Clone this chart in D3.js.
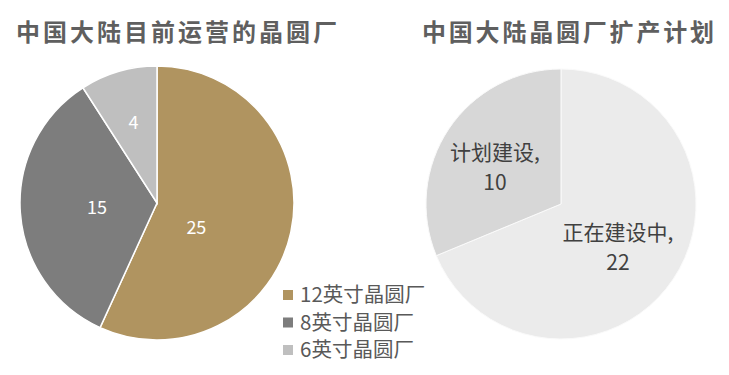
<!DOCTYPE html>
<html>
<head>
<meta charset="utf-8">
<script src="https://d3js.org/d3.v7.min.js"></script>
<style>
  body { margin: 0; background: #fff; }
  text { font-family: "Noto Sans CJK SC", "Noto Sans", sans-serif; }
</style>
</head>
<body>
<svg id="chart" width="729" height="375"></svg>
<script>
// left pie: fabs in operation
var fabTypes = ["12英寸晶圆厂", "8英寸晶圆厂", "6英寸晶圆厂"];
var fabCounts = [25, 15, 4];
var fabColors = ["#b09460", "#7d7d7d", "#bfbfbf"];

// right pie: expansion plans
var planTypes = ["正在建设中", "计划建设"];
var planCounts = [22, 10];
var planColors = ["#ebebeb", "#d7d7d7"];

var titles = ["中国大陆目前运营的晶圆厂", "中国大陆晶圆厂扩产计划"];

var svg = d3.select("#chart");

var pie = d3.pie().sort(null).value(function(d){ return d.v; });

// titles
svg.append("text").attr("x", 16).attr("y", 41)
  .attr("textLength", 321).attr("lengthAdjust", "spacing")
  .style("font-size", "24px").style("font-weight", "bold").style("fill", "#5f5f5f")
  .text(titles[0]);
svg.append("text").attr("x", 422).attr("y", 41)
  .attr("textLength", 292).attr("lengthAdjust", "spacing")
  .style("font-size", "24px").style("font-weight", "bold").style("fill", "#5f5f5f")
  .text(titles[1]);

// ---- left pie
var leftData = fabTypes.map(function(t, i){ return {name: t, v: fabCounts[i], c: fabColors[i]}; });
var rL = 137;
var gL = svg.append("g").attr("transform", "translate(157,203)");
var arcL = d3.arc().innerRadius(0).outerRadius(rL);

var leftArcs = pie(leftData);
gL.selectAll("path").data(leftArcs).enter().append("path")
  .attr("d", arcL)
  .attr("fill", function(d){ return d.data.c; })
  .attr("stroke", "#fff").attr("stroke-width", 1.5);

// excel "best fit" style label spots: radius fraction + angle nudge per slice
var labelFit = [[0.34, 0.35], [0.44, 0], [0.61, 0]];
gL.selectAll("text").data(leftArcs).enter().append("text")
  .attr("transform", function(d, i){
    var a = (d.startAngle + d.endAngle) / 2 + labelFit[i][1];
    var r = rL * labelFit[i][0];
    return "translate(" + (Math.sin(a) * r) + "," + (-Math.cos(a) * r) + ")";
  })
  .attr("text-anchor", "middle").attr("dy", "0.35em")
  .style("font-size", "18px").style("fill", "#fff")
  .text(function(d){ return d.data.v; });

// legend
var legend = svg.append("g").attr("transform", "translate(283,295)");
var rows = legend.selectAll("g").data(leftData).enter().append("g")
  .attr("transform", function(d, i){ return "translate(0," + (i * 27.5) + ")"; });
rows.append("rect").attr("x", 0).attr("y", -5).attr("width", 10).attr("height", 10)
  .attr("fill", function(d){ return d.c; });
rows.append("text").attr("x", 17).attr("dy", "0.36em")
  .style("font-size", "20.5px").style("fill", "#595959")
  .text(function(d){ return d.name; });

// ---- right pie
var rightData = planTypes.map(function(t, i){ return {name: t, v: planCounts[i], c: planColors[i]}; });
var rR = 135;
var gR = svg.append("g").attr("transform", "translate(561,204)");
var arcR = d3.arc().innerRadius(0).outerRadius(rR);

var rightArcs = pie(rightData);
gR.selectAll("path").data(rightArcs).enter().append("path")
  .attr("d", arcR)
  .attr("fill", function(d){ return d.data.c; })
  .attr("stroke", "#fafafa").attr("stroke-width", 1);

var labelFitR = [[0.52, 0.034], [0.568, -0.057]];
var lbl = gR.selectAll("text").data(rightArcs).enter().append("text")
  .attr("transform", function(d, i){
    var a = (d.startAngle + d.endAngle) / 2 + labelFitR[i][1];
    var r = rR * labelFitR[i][0];
    return "translate(" + (Math.sin(a) * r) + "," + (-Math.cos(a) * r) + ")";
  })
  .attr("text-anchor", "middle")
  .style("font-size", "21px").style("fill", "#404040");
lbl.append("tspan").attr("x", 0).attr("dy", "-0.25em").text(function(d){ return d.data.name + ","; });
lbl.append("tspan").attr("x", 0).attr("dy", "1.45em").text(function(d){ return d.data.v; });
</script>
</body>
</html>
